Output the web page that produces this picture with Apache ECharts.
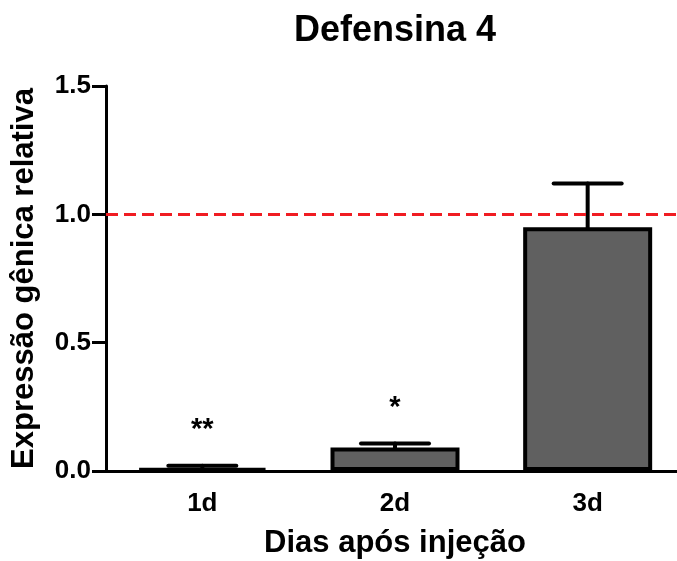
<!DOCTYPE html>
<html>
<head>
<meta charset="utf-8">
<script src="https://cdn.jsdelivr.net/npm/echarts@6/dist/echarts.min.js"></script>
<style>
  html, body { margin: 0; padding: 0; background: #fff; }
  #chart { width: 677px; height: 561px; }
</style>
</head>
<body>
<div id="chart"></div>
<script>
const categories = ["1d", "2d", "3d"];
const means = [0.01, 0.092, 0.95];
const errors = [0.01, 0.015, 0.17];
const stars = ["**", "*", ""];
const yTicks = [0, 0.5, 1.0, 1.5];
const refLine = 1.0;

const font = "'Liberation Sans', Arial, Helvetica, sans-serif";
const chart = echarts.init(document.getElementById("chart"));

const errData = categories.map((c, i) => [i, means[i], errors[i], stars[i]]);

chart.setOption({
  animation: false,
  title: {
    text: "Defensina 4",
    left: 395,
    top: 13,
    padding: 0,
    textAlign: "center",
    textStyle: { fontFamily: font, fontSize: 36, fontWeight: "bold", color: "#000" }
  },
  grid: { left: 106, top: 86, width: 578, height: 385, containLabel: false, outerBoundsMode: "none" },
  xAxis: {
    type: "category",
    data: categories,
    name: "Dias após injeção",
    nameLocation: "middle",
    nameGap: 57,
    nameTextStyle: { fontFamily: font, fontSize: 31, fontWeight: "bold", color: "#000" },
    axisLine: { lineStyle: { color: "#000", width: 3 } },
    axisTick: { alignWithLabel: true, length: 11, lineStyle: { color: "#000", width: 3 } },
    axisLabel: { margin: 20, fontFamily: font, fontSize: 26, fontWeight: "bold", color: "#000" }
  },
  yAxis: {
    type: "value",
    min: yTicks[0],
    max: yTicks[yTicks.length - 1],
    interval: 0.5,
    name: "Expressão gênica relativa",
    nameLocation: "middle",
    nameGap: 66,
    nameTextStyle: { fontFamily: font, fontSize: 31, fontWeight: "bold", color: "#000" },
    axisLine: { show: true, lineStyle: { color: "#000", width: 3 } },
    axisTick: { show: true, length: 14, lineStyle: { color: "#000", width: 3 } },
    splitLine: { show: false },
    axisLabel: {
      margin: 15,
      fontFamily: font, fontSize: 26, fontWeight: "bold", color: "#000",
      formatter: v => v.toFixed(1)
    }
  },
  series: [
    {
      type: "bar",
      data: means,
      barWidth: 129,
      itemStyle: { color: "#606060", borderColor: "#000", borderWidth: 4 },
      markLine: {
        silent: true,
        symbol: "none",
        label: { show: false },
        lineStyle: { color: "#f01c22", width: 3, type: [12, 6] },
        data: [{ yAxis: refLine }]
      },
      z: 2
    },
    {
      type: "custom",
      data: errData,
      z: 3,
      renderItem(params, api) {
        const i = api.value(0);
        const m = api.value(1);
        const e = api.value(2);
        const star = errData[params.dataIndex][3];
        const base = api.coord([i, m]);
        const top = api.coord([i, m + e]);
        const hw = 34;
        const st = { stroke: "#000", lineWidth: 4, lineCap: "round" };
        return {
          type: "group",
          children: [
            { type: "line", shape: { x1: base[0], y1: base[1], x2: top[0], y2: top[1] }, style: st },
            { type: "line", shape: { x1: top[0] - hw, y1: top[1], x2: top[0] + hw, y2: top[1] }, style: st },
            {
              type: "text",
              style: {
                text: star, x: top[0], y: top[1] - 21,
                align: "center", verticalAlign: "bottom",
                font: "bold 29px " + font, fill: "#000"
              }
            }
          ]
        };
      }
    }
  ]
});
</script>
</body>
</html>
